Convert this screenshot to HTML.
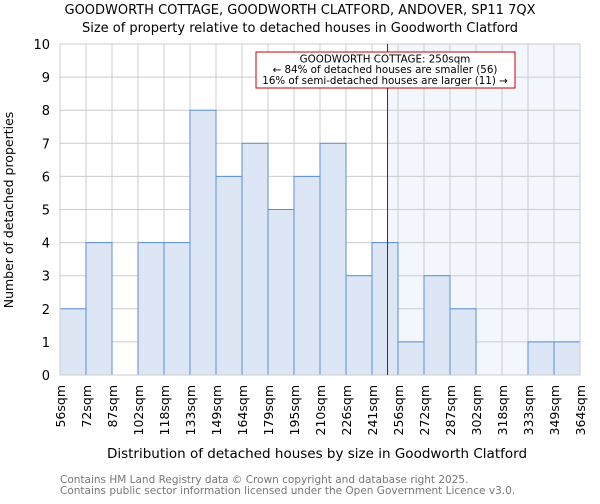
<!DOCTYPE html>
<html><head><meta charset="utf-8"><style>
body{margin:0;background:#fff;font-family:"DejaVu Sans","Liberation Sans",sans-serif;}
svg text{font-family:"DejaVu Sans","Liberation Sans",sans-serif;}
</style></head><body>
<svg id="c" width="600" height="500" xmlns="http://www.w3.org/2000/svg">
<text x="300" y="14" text-anchor="middle" font-size="13" fill="#000">GOODWORTH COTTAGE, GOODWORTH CLATFORD, ANDOVER, SP11 7QX</text>
<text x="300" y="32" text-anchor="middle" font-size="13" fill="#000">Size of property relative to detached houses in Goodworth Clatford</text>
<g id="plot"></g>
<text x="317" y="458" text-anchor="middle" font-size="13.5">Distribution of detached houses by size in Goodworth Clatford</text>
<text transform="translate(13,210) rotate(-90)" text-anchor="middle" font-size="12.5">Number of detached properties</text>
<text x="60" y="483" font-size="10.5" fill="#777">Contains HM Land Registry data © Crown copyright and database right 2025.</text>
<text x="60" y="494" font-size="10.5" fill="#777">Contains public sector information licensed under the Open Government Licence v3.0.</text>
</svg>
<script>
const tickLabels=["56sqm","72sqm","87sqm","102sqm","118sqm","133sqm","149sqm","164sqm","179sqm","195sqm","210sqm","226sqm","241sqm","256sqm","272sqm","287sqm","302sqm","318sqm","333sqm","349sqm","364sqm"];
const counts=[2,4,0,4,4,8,6,7,5,6,7,3,4,1,3,2,0,0,1,1];
const yTicks=[0,1,2,3,4,5,6,7,8,9,10];
const minSize=56, maxSize=364, propertySize=250;
const L=60,R=580,T=44,B=375;
const NS="http://www.w3.org/2000/svg";
const g=document.getElementById('plot');
const n=counts.length;
const xb=i=>L+i*(R-L)/n;
const xv=v=>L+(v-minSize)/(maxSize-minSize)*(R-L);
const y=v=>B-v*(B-T)/10;
function mk(t,a){const e=document.createElementNS(NS,t);for(const k in a)e.setAttribute(k,a[k]);g.appendChild(e);return e;}
let e=mk('rect',{x:xv(propertySize),y:T,width:R-xv(propertySize),height:B-T,fill:'#f3f6fd'});


yTicks.forEach(t=>{
 let l=mk('line',{x1:L,x2:R,y1:y(t),y2:y(t),stroke:'#cccccc'});
 
 
 let tx=mk('text',{x:L-10,y:y(t)+5,'text-anchor':'end','font-size':'13'});tx.textContent=t;
 
 
});
for(let i=0;i<=n;i++){
 let l=mk('line',{x1:xb(i),x2:xb(i),y1:T,y2:B,stroke:'#cccccc'});
 
 
}
counts.forEach((c,i)=>{
 if(c<=0)return;
 let r=mk('rect',{x:xb(i),y:y(c),width:xb(i+1)-xb(i),height:B-y(c),fill:'#dde6f4',stroke:'#5b8ed6','stroke-width':1});
 
 
});
mk('rect',{x:L,y:T,width:R-L,height:B-T,fill:'none',stroke:'#cccccc'});
tickLabels.forEach((s,i)=>{
 let tx=mk('text',{transform:`translate(${xb(i)+5},${B+10}) rotate(-90)`,'text-anchor':'end','font-size':'12.5'});tx.textContent=s;
 
 
});
let pl=mk('line',{x1:xv(propertySize),x2:xv(propertySize),y1:T,y2:B,stroke:'#aa0000','stroke-width':1});


let bx=mk('rect',{x:256,y:52,width:259,height:36,fill:'#fff',stroke:'#cc0000','stroke-width':1});


["GOODWORTH COTTAGE: 250sqm","← 84% of detached houses are smaller (56)","16% of semi-detached houses are larger (11) →"].forEach((s,k)=>{
 let tx=mk('text',{x:385,y:62.5+k*10.7,'text-anchor':'middle','font-size':'10.3'});tx.textContent=s;
 
 
});
</script>
</body></html>
